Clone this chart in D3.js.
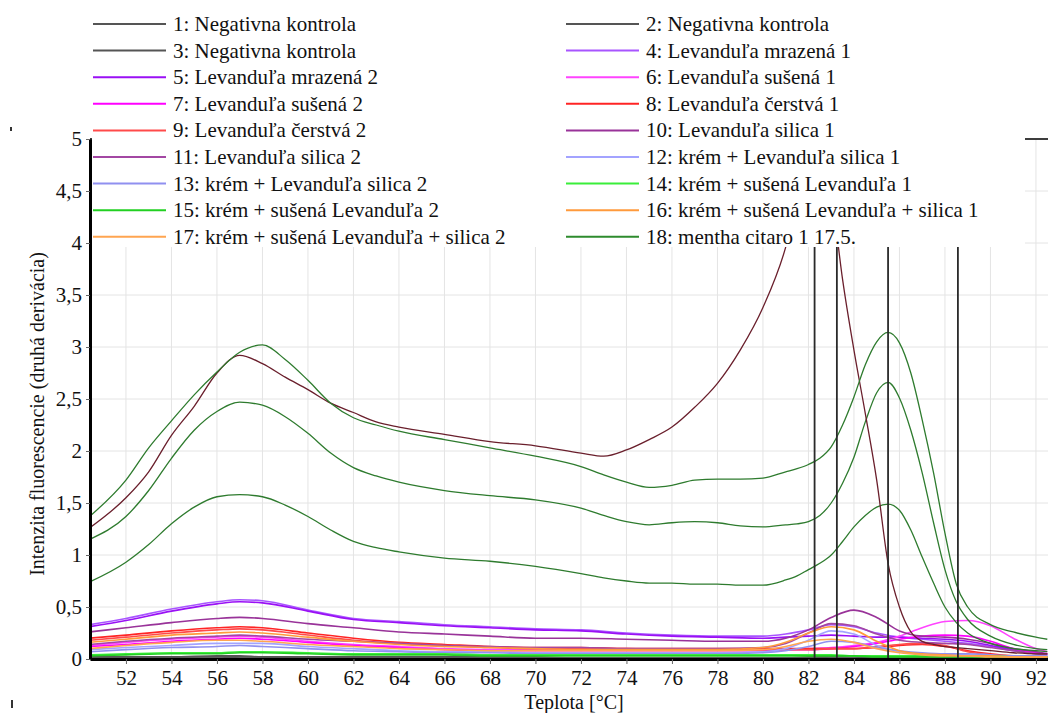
<!DOCTYPE html>
<html>
<head>
<meta charset="utf-8">
<script src="https://cdn.jsdelivr.net/npm/d3@7"></script>
<style>
  body { margin: 0; background: #fff; }
  svg { display: block; font-family: "Liberation Serif", "Times New Roman", serif; }
</style>
</head>
<body>
<div id="chart"></div>
<script>
// temperature grids (°C)
const temps = [50.4, 52, 54, 56, 57, 58, 60, 62, 64, 66, 68, 70, 72, 74, 76, 78, 80, 81, 82, 83, 84, 85, 86, 87, 88, 89, 90, 91, 92, 92.5];
const tempsFine = [50.4, 52, 53, 54, 55, 56, 57, 58, 59, 60, 61, 62, 63, 64, 66, 68, 70, 72, 73, 74, 75, 76, 77, 78, 79, 80, 81, 81.5, 82, 82.5, 83, 83.5, 84, 84.5, 85, 85.5, 86, 86.5, 87, 87.5, 88, 88.5, 89, 90, 91, 92, 92.5];

const legendLabels = [
  '1: Negativna kontrola', '2: Negativna kontrola',
  '3: Negativna kontrola', '4: Levanduľa mrazená 1',
  '5: Levanduľa mrazená 2', '6: Levanduľa sušená 1',
  '7: Levanduľa sušená 2', '8: Levanduľa čerstvá 1',
  '9: Levanduľa čerstvá 2', '10: Levanduľa silica 1',
  '11: Levanduľa silica 2', '12: krém + Levanduľa silica 1',
  '13: krém + Levanduľa silica 2', '14: krém + sušená Levanduľa 1',
  '15: krém + sušená Levanduľa 2', '16: krém + sušená Levanduľa + silica 1',
  '17: krém + sušená Levanduľa + silica 2', '18: mentha citaro 1 17.5.'
];
const legendColors = ['#555555', '#555555', '#555555', '#a855ff', '#9a10f5', '#ff44ff',
  '#ff00ff', '#ff2424', '#ff4a4a', '#993399', '#a347a3', '#a3a3ff', '#9090f0', '#3aee3a',
  '#22d022', '#ff9a3c', '#ffa550', '#2e8b2e'];

// small curves (on temps)
const s1 = [0.02,0.02,0.02,0.03,0.03,0.02,0.02,0.02,0.02,0.02,0.02,0.02,0.01,0.01,0.01,0.01,0.01,0.01,0.01,0.02,0.02,0.01,0.01,0.01,0.01,0.01,0.01,0.01,0.01,0.01];
const s2 = [0.01,0.01,0.02,0.02,0.02,0.02,0.01,0.01,0.01,0.01,0.01,0.01,0.01,0.01,0.01,0.01,0.01,0.01,0.02,0.03,0.03,0.02,0.01,0.01,0.01,0.01,0.01,0.01,0.01,0.01];
const s3 = [0.01,0.01,0.01,0.01,0.02,0.02,0.01,0.01,0.01,0.01,0.01,0.01,0.01,0.01,0.01,0.01,0.01,0.01,0.01,0.01,0.01,0.01,0.01,0.01,0.01,0.01,0.01,0.01,0.01,0.01];
const s4 = [0.33,0.39,0.48,0.55,0.57,0.56,0.47,0.39,0.36,0.33,0.31,0.29,0.28,0.25,0.23,0.22,0.22,0.24,0.28,0.33,0.31,0.25,0.21,0.19,0.17,0.15,0.12,0.08,0.05,0.04];
const s5 = [0.31,0.37,0.46,0.53,0.55,0.54,0.46,0.38,0.35,0.32,0.30,0.28,0.27,0.24,0.22,0.21,0.20,0.21,0.22,0.23,0.22,0.21,0.21,0.20,0.19,0.17,0.13,0.09,0.06,0.05];
const s6 = [0.13,0.16,0.19,0.21,0.22,0.21,0.17,0.14,0.12,0.10,0.09,0.09,0.09,0.09,0.09,0.09,0.09,0.09,0.10,0.11,0.13,0.16,0.22,0.30,0.36,0.37,0.32,0.20,0.10,0.07];
const s7 = [0.12,0.14,0.17,0.19,0.20,0.19,0.16,0.13,0.11,0.09,0.08,0.08,0.08,0.08,0.08,0.08,0.08,0.09,0.09,0.10,0.12,0.15,0.19,0.22,0.23,0.22,0.17,0.10,0.06,0.05];
const s8 = [0.20,0.23,0.27,0.30,0.31,0.30,0.25,0.20,0.16,0.14,0.12,0.11,0.11,0.10,0.10,0.10,0.10,0.10,0.10,0.10,0.10,0.11,0.13,0.14,0.12,0.08,0.05,0.03,0.02,0.02];
const s9 = [0.18,0.21,0.25,0.28,0.29,0.28,0.23,0.18,0.15,0.13,0.11,0.10,0.10,0.10,0.09,0.09,0.09,0.09,0.09,0.10,0.10,0.12,0.14,0.15,0.13,0.07,0.04,0.02,0.02,0.02];
const s10 = [0.26,0.30,0.35,0.39,0.40,0.39,0.34,0.30,0.26,0.24,0.22,0.20,0.20,0.19,0.18,0.17,0.17,0.20,0.28,0.40,0.47,0.40,0.27,0.22,0.21,0.19,0.15,0.10,0.07,0.05];
const s11 = [0.14,0.17,0.20,0.22,0.23,0.22,0.19,0.17,0.15,0.13,0.12,0.11,0.11,0.10,0.10,0.10,0.11,0.15,0.25,0.34,0.32,0.24,0.18,0.16,0.15,0.14,0.11,0.08,0.05,0.04];
const s12 = [0.09,0.11,0.13,0.15,0.15,0.15,0.12,0.10,0.08,0.07,0.07,0.06,0.06,0.06,0.06,0.06,0.07,0.10,0.18,0.27,0.24,0.13,0.07,0.05,0.04,0.04,0.03,0.03,0.02,0.02];
const s13 = [0.07,0.09,0.11,0.12,0.13,0.12,0.10,0.08,0.07,0.06,0.06,0.05,0.05,0.05,0.05,0.05,0.06,0.08,0.12,0.17,0.16,0.11,0.08,0.06,0.05,0.05,0.04,0.03,0.03,0.03];
const s14 = [0.04,0.05,0.06,0.06,0.07,0.07,0.06,0.05,0.05,0.05,0.04,0.04,0.04,0.04,0.04,0.04,0.04,0.04,0.04,0.04,0.03,0.03,0.03,0.03,0.03,0.03,0.03,0.02,0.02,0.02];
const s15 = [0.03,0.04,0.05,0.05,0.06,0.06,0.05,0.04,0.04,0.04,0.03,0.03,0.03,0.03,0.03,0.03,0.03,0.03,0.03,0.03,0.03,0.02,0.02,0.02,0.02,0.02,0.02,0.02,0.01,0.01];
const s16 = [0.16,0.19,0.23,0.25,0.26,0.25,0.21,0.17,0.14,0.12,0.11,0.10,0.09,0.09,0.09,0.09,0.11,0.16,0.25,0.31,0.28,0.17,0.08,0.05,0.04,0.03,0.03,0.02,0.02,0.02];
const s17 = [0.10,0.13,0.16,0.18,0.18,0.17,0.14,0.12,0.10,0.09,0.08,0.08,0.08,0.08,0.08,0.08,0.09,0.12,0.17,0.19,0.16,0.10,0.06,0.04,0.03,0.03,0.02,0.02,0.02,0.02];

// large curves (on tempsFine)
const mentha1 = [1.37,1.72,2.03,2.29,2.54,2.76,2.95,3.02,2.88,2.68,2.46,2.32,2.25,2.19,2.11,2.03,1.95,1.85,1.77,1.70,1.65,1.67,1.72,1.73,1.73,1.74,1.80,1.83,1.87,1.93,2.04,2.25,2.52,2.83,3.05,3.14,3.04,2.75,2.30,1.79,1.21,0.72,0.50,0.33,0.26,0.21,0.19];
const mentha2 = [1.15,1.37,1.62,1.93,2.20,2.38,2.47,2.44,2.33,2.17,1.98,1.84,1.76,1.70,1.62,1.57,1.53,1.45,1.38,1.32,1.29,1.31,1.32,1.31,1.28,1.27,1.29,1.30,1.32,1.38,1.50,1.69,1.94,2.28,2.56,2.66,2.51,2.20,1.79,1.31,0.86,0.55,0.38,0.22,0.14,0.10,0.09];
const mentha3 = [0.74,0.93,1.10,1.30,1.46,1.56,1.58,1.56,1.48,1.37,1.24,1.13,1.07,1.03,0.97,0.94,0.89,0.82,0.78,0.75,0.73,0.73,0.72,0.72,0.71,0.71,0.76,0.80,0.86,0.92,1.00,1.13,1.27,1.38,1.46,1.49,1.43,1.24,0.98,0.73,0.50,0.35,0.25,0.15,0.10,0.08,0.07];
const darkRed = [1.26,1.55,1.80,2.15,2.43,2.75,2.92,2.84,2.71,2.59,2.46,2.37,2.28,2.23,2.16,2.09,2.05,1.98,1.95,2.01,2.11,2.23,2.42,2.65,2.97,3.38,3.96,4.40,4.80,5.00,4.50,3.65,2.97,2.36,1.72,0.92,0.50,0.26,0.17,0.14,0.12,0.11,0.10,0.08,0.06,0.05,0.05];

// melting-point markers (°C)
const markers = [82.27, 83.25, 85.5, 88.57];

const smallSeries = [s1, s2, s3, s4, s5, s6, s7, s8, s9, s10, s11, s12, s13, s14, s15, s16, s17];
const bigSeries = [
  { values: mentha3, color: '#2e7b2e' },
  { values: mentha2, color: '#2e7b2e' },
  { values: darkRed, color: '#6a1f2c' },
  { values: mentha1, color: '#2e7b2e' }
];

const width = 1048, height = 713;
const plot = { left: 90, right: 1048, top: 139, bottom: 659 };
const textColor = '#111';

const svg = d3.select('#chart').append('svg')
  .attr('width', width)
  .attr('height', height);

const x = d3.scaleLinear().domain([50.42, 92.53]).range([plot.left, plot.right]);
const y = d3.scaleLinear().domain([0, 5]).range([plot.bottom, plot.top]);
const xTicks = d3.range(52, 93, 2);

svg.append('defs').append('clipPath').attr('id', 'plotclip')
  .append('rect')
  .attr('x', plot.left).attr('y', plot.top - 2)
  .attr('width', plot.right - plot.left).attr('height', plot.bottom - plot.top + 2);

// grid
let grid = svg.append('g').attr('stroke', '#e4e4e4').attr('stroke-width', 1);
grid.selectAll('.vg').data(xTicks).enter().append('line')
  .attr('x1', d => x(d)).attr('x2', d => x(d))
  .attr('y1', plot.top).attr('y2', plot.bottom);
grid.selectAll('.hg').data(y.ticks(10)).enter().append('line')
  .attr('x1', plot.left).attr('x2', plot.right)
  .attr('y1', d => y(d)).attr('y2', d => y(d));

let curves = svg.append('g').attr('clip-path', 'url(#plotclip)').attr('fill', 'none');

let line = d3.line().curve(d3.curveMonotoneX);

curves.selectAll('.small').data(smallSeries).enter().append('path')
  .attr('stroke', (d, i) => legendColors[i])
  .attr('stroke-width', 1.6)
  .attr('d', d => line(d.map((v, i) => [x(temps[i]), y(v)])));

curves.selectAll('.big').data(bigSeries).enter().append('path')
  .attr('stroke', d => d.color)
  .attr('stroke-width', 1.3)
  .attr('d', d => line(d.values.map((v, i) => [x(tempsFine[i]), y(v)])));

curves.selectAll('.marker').data(markers).enter().append('line')
  .attr('x1', d => x(d)).attr('x2', d => x(d))
  .attr('y1', plot.top).attr('y2', plot.bottom)
  .attr('stroke', '#2a2a2a').attr('stroke-width', 1.8);

// top border of the plot (mostly under the legend)
svg.append('line')
  .attr('x1', plot.left).attr('x2', plot.right)
  .attr('y1', plot.top).attr('y2', plot.top)
  .attr('stroke', '#000').attr('stroke-width', 1.5);

// legend box over the plot
let legend = svg.append('g');
legend.append('rect')
  .attr('x', 92).attr('y', 0).attr('width', 933).attr('height', 247)
  .attr('fill', '#fff');

let items = legend.selectAll('.item').data(legendLabels).enter().append('g')
  .attr('transform', (d, i) => {
    let col = i % 2;
    let row = Math.floor(i / 2);
    return `translate(${col === 0 ? 93 : 566}, ${24 + row * 26.6})`;
  });
items.append('line')
  .attr('x1', 0).attr('x2', 73).attr('y1', 0).attr('y2', 0)
  .attr('stroke', (d, i) => legendColors[i]).attr('stroke-width', 2);
items.append('text')
  .attr('x', 80).attr('y', 7)
  .attr('font-size', 21).attr('fill', textColor)
  .text(d => d);

// axes
let yAxis = svg.append('g')
  .attr('transform', `translate(${plot.left},0)`)
  .call(d3.axisLeft(y).ticks(10).tickSize(4).tickSizeOuter(0).tickPadding(4)
    .tickFormat(d => String(d).replace('.', ',')));
let xAxis = svg.append('g')
  .attr('transform', `translate(0,${plot.bottom})`)
  .call(d3.axisBottom(x).tickValues(xTicks).tickSize(5).tickSizeOuter(0).tickPadding(6));

[xAxis, yAxis].forEach(a => {
  a.select('.domain').attr('stroke', '#000').attr('stroke-width', 3);
  a.selectAll('.tick line').attr('stroke', '#666');
  a.selectAll('.tick text')
    .attr('font-family', '"Liberation Serif", serif')
    .attr('font-size', 21).attr('fill', textColor);
});

svg.append('text')
  .attr('transform', 'translate(44,414) rotate(-90)')
  .attr('text-anchor', 'middle')
  .attr('font-size', 20).attr('fill', textColor)
  .text('Intenzita fluorescencie (druhá derivácia)');

svg.append('text')
  .attr('x', 574).attr('y', 709)
  .attr('text-anchor', 'middle')
  .attr('font-size', 20).attr('fill', textColor)
  .text('Teplota [°C]');

// small scan marks at the left edge
svg.append('rect').attr('x', 10).attr('y', 127).attr('width', 2).attr('height', 4).attr('fill', '#333');
svg.append('rect').attr('x', 11).attr('y', 700).attr('width', 2).attr('height', 8).attr('fill', '#333');
</script>
</body>
</html>
